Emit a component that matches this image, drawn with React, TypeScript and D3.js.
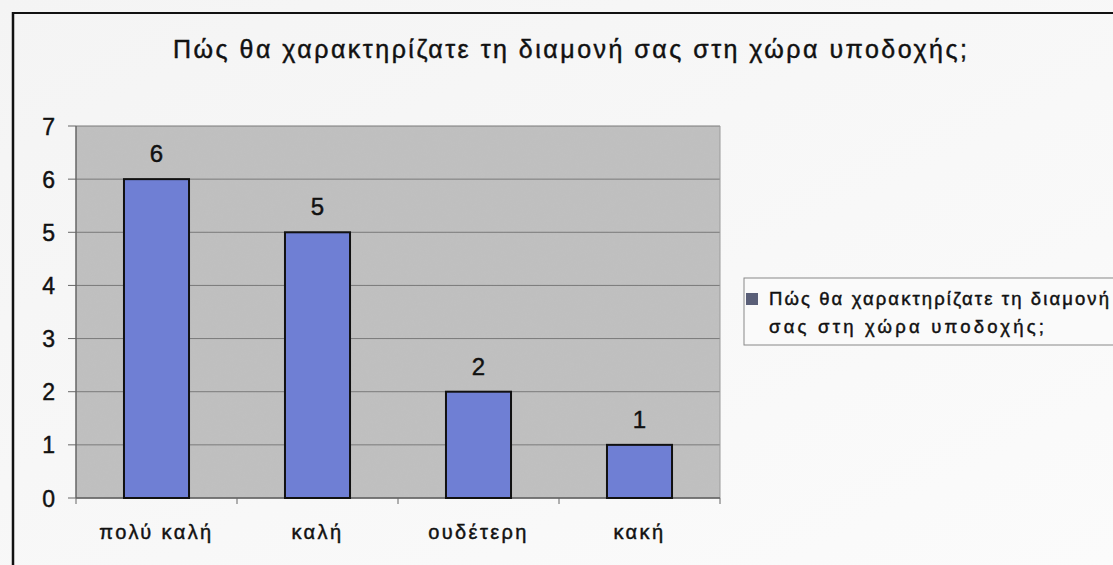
import React from "react";
import * as d3 from "d3";

const title = "Πώς θα χαρακτηρίζατε τη διαμονή σας στη χώρα υποδοχής;";
const categories = ["πολύ καλή", "καλή", "ουδέτερη", "κακή"];
const values = [6, 5, 2, 1];
const yTicks = [0, 1, 2, 3, 4, 5, 6, 7];
const legendLines = ["Πώς θα χαρακτηρίζατε τη διαμονή", "σας στη χώρα υποδοχής;"];

const W = 1113;
const H = 565;
const plot = { left: 76, right: 720, top: 126, bottom: 498 };
const FONT = "'Liberation Sans', Arial, sans-serif";
const heavy = { stroke: "#111", strokeWidth: 0.45 };

export default function App() {
  const x = d3
    .scaleBand<string>()
    .domain(categories)
    .range([plot.left, plot.right])
    .paddingInner(0.596)
    .paddingOuter(0.298);
  const y = d3.scaleLinear().domain([0, 7]).range([plot.bottom, plot.top]);
  const step = x.step();
  const tickXs = d3.range(categories.length + 1).map((i) => plot.left + i * step);

  return (
    <svg
      width={W}
      height={H}
      style={{ position: "absolute", left: 0, top: 0, background: "#f7f7f7" }}
      fontFamily={FONT}
    >
      <defs>
        <linearGradient id="pg" x1="0" y1="0" x2="1" y2="1">
          <stop offset="0" stopColor="#f4f4f4" />
          <stop offset="1" stopColor="#fbfbfb" />
        </linearGradient>
        <filter id="grain" x="0" y="0" width="1" height="1">
          <feTurbulence type="fractalNoise" baseFrequency="0.9" numOctaves="1" seed="3" result="n" />
          <feColorMatrix type="matrix" values="0 0 0 0 0.5  0 0 0 0 0.5  0 0 0 0 0.5  0 0 0 0.12 0" result="g" />
          <feComposite in="g" in2="SourceGraphic" operator="in" result="gg" />
          <feMerge>
            <feMergeNode in="SourceGraphic" />
            <feMergeNode in="gg" />
          </feMerge>
        </filter>
      </defs>
      <rect x={0} y={0} width={W} height={H} fill="url(#pg)" />
      {/* outer frame */}
      <line x1={13} y1={13} x2={W} y2={13} stroke="#111" strokeWidth={2} />
      <line x1={13} y1={12} x2={13} y2={H} stroke="#111" strokeWidth={2.5} />

      {/* title */}
      <text
        x={570}
        y={58}
        textAnchor="middle"
        fontSize={25}
        fill="#111"
        textLength={794}
        lengthAdjust="spacing"
        {...heavy}
      >
        {title}
      </text>

      {/* plot area */}
      <rect
        x={plot.left}
        y={plot.top}
        width={plot.right - plot.left}
        height={plot.bottom - plot.top}
        fill="#c0c0c0"
        filter="url(#grain)"
      />
      {yTicks.map((t) => (
        <line
          key={"g" + t}
          x1={plot.left}
          x2={plot.right}
          y1={y(t)}
          y2={y(t)}
          stroke="#7a7a7a"
          strokeWidth={1}
        />
      ))}
      <line x1={plot.right} y1={plot.top} x2={plot.right} y2={plot.bottom} stroke="#9a9a9a" strokeWidth={1} />
      <line x1={plot.left} y1={plot.top} x2={plot.left} y2={plot.bottom} stroke="#666" strokeWidth={1.5} />
      <line x1={plot.left} y1={plot.bottom} x2={plot.right} y2={plot.bottom} stroke="#666" strokeWidth={1.5} />

      {/* y ticks & labels */}
      {yTicks.map((t) => (
        <g key={"y" + t}>
          <line x1={plot.left - 8} x2={plot.left} y1={y(t)} y2={y(t)} stroke="#666" strokeWidth={1} />
          <text x={55} y={y(t) + 8.5} textAnchor="end" fontSize={23} fill="#111" {...heavy}>
            {t}
          </text>
        </g>
      ))}

      {/* x ticks */}
      {tickXs.map((tx, i) => (
        <line key={"xt" + i} x1={tx} x2={tx} y1={plot.bottom} y2={plot.bottom + 6} stroke="#666" strokeWidth={1} />
      ))}

      {/* bars */}
      {categories.map((c, i) => (
        <g key={c}>
          <rect
            x={x(c)!}
            y={y(values[i])}
            width={x.bandwidth()}
            height={plot.bottom - y(values[i])}
            fill="#6f7fd4"
            stroke="#111"
            strokeWidth={2}
          />
          <text
            x={x(c)! + x.bandwidth() / 2}
            y={y(values[i]) - 17}
            textAnchor="middle"
            fontSize={24}
            fill="#111"
            {...heavy}
          >
            {values[i]}
          </text>
          <text
            x={x(c)! + x.bandwidth() / 2}
            y={539}
            textAnchor="middle"
            fontSize={20}
            fill="#111"
            letterSpacing={2.4}
            {...heavy}
          >
            {c}
          </text>
        </g>
      ))}

      {/* legend */}
      <rect x={744} y={278} width={W} height={67} fill="#fafafa" stroke="#888" strokeWidth={1} />
      <rect x={746} y={293} width={12} height={12} fill="#5a5f78" />
      <text x={769} y={305} fontSize={18.5} fill="#111" textLength={340} lengthAdjust="spacing" {...heavy}>
        {legendLines[0]}
      </text>
      <text x={769} y={333} fontSize={18.5} fill="#111" textLength={275} lengthAdjust="spacing" {...heavy}>
        {legendLines[1]}
      </text>
    </svg>
  );
}
